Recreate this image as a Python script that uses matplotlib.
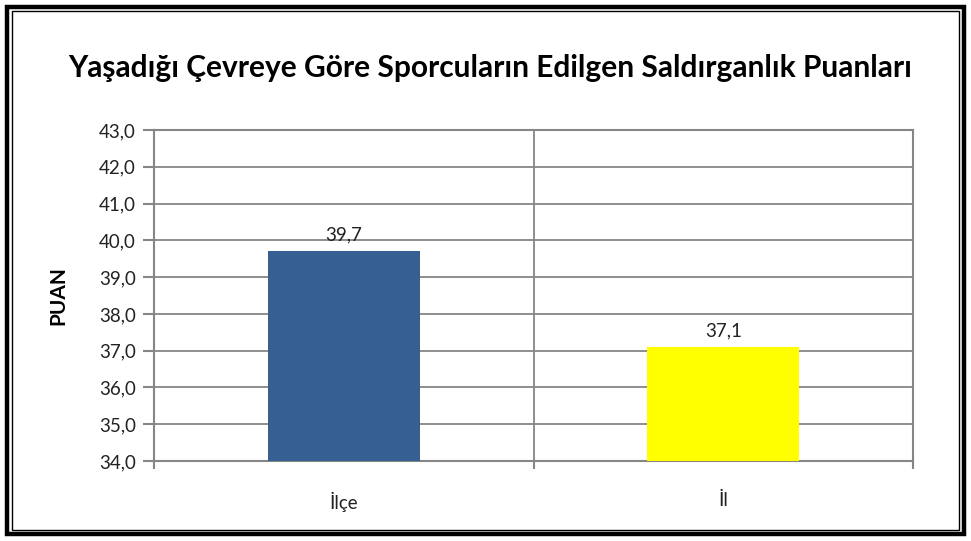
import matplotlib
matplotlib.use("Agg")
import matplotlib.pyplot as plt
from matplotlib.patches import Rectangle

categories = ["İlçe", "İl"]
values = [39.7, 37.1]
colors = ["#376092", "#FFFF00"]
yticks = [34, 35, 36, 37, 38, 39, 40, 41, 42, 43]

plt.rcParams["font.family"] = ["Lato", "DejaVu Sans"]

fig = plt.figure(figsize=(9.71, 5.41), dpi=100)
ax = fig.add_axes([0.1586, 0.1479, 0.9403 - 0.1586, 0.7597 - 0.1479])

grid_c = "#868686"
fs = 13.5
xpos = [i + 0.5 for i in range(len(categories))]
bars = ax.bar(xpos, values, width=0.4, color=colors, zorder=3)
for b, v in zip(bars, values):
    ax.text(b.get_x() + b.get_width() / 2, v + 0.22, f"{v:.1f}".replace(".", ","),
            ha="center", va="bottom", fontsize=fs, color="#222222")

ax.set_xlim(0, len(categories))
ax.set_ylim(34, 43)
ax.set_yticks(yticks)
ax.set_yticklabels([f"{t:.1f}".replace(".", ",") for t in yticks], fontsize=fs)
ax.set_xticks(xpos)
ax.set_xticklabels(categories, fontsize=fs)
ax.set_xticks(range(len(categories) + 1), minor=True)
ax.tick_params(axis="x", which="major", length=0, pad=22)
ax.tick_params(axis="x", which="minor", length=6, color=grid_c, width=1.5)
ax.tick_params(axis="y", length=8, color=grid_c, width=1.5, pad=5, labelcolor="#222222")
ax.tick_params(axis="x", labelcolor="#222222")
ax.grid(axis="y", color=grid_c, lw=1.3, zorder=0)
ax.grid(axis="x", which="minor", color=grid_c, lw=1.3, zorder=0)
for s in ax.spines.values():
    s.set_color(grid_c)
    s.set_linewidth(1.5)

ax.set_ylabel("PUAN", fontsize=15, fontweight="bold", labelpad=22)
fig.text(0.505, 0.874, "Yaşadığı Çevreye Göre Sporcuların Edilgen Saldırganlık Puanları",
         ha="center", va="center", fontsize=21.5, fontweight="bold")

# double frame around the chart
W, H = 971, 541
fig.patches.append(Rectangle((7 / W, 7 / H), (W - 14) / W, (H - 14) / H, fill=False,
                             ec="black", lw=3.2, transform=fig.transFigure, figure=fig))
fig.patches.append(Rectangle((12 / W, 11 / H), (W - 24) / W, (H - 22) / H, fill=False,
                             ec="black", lw=1.0, transform=fig.transFigure, figure=fig))

fig.savefig("out.png", dpi=100)
